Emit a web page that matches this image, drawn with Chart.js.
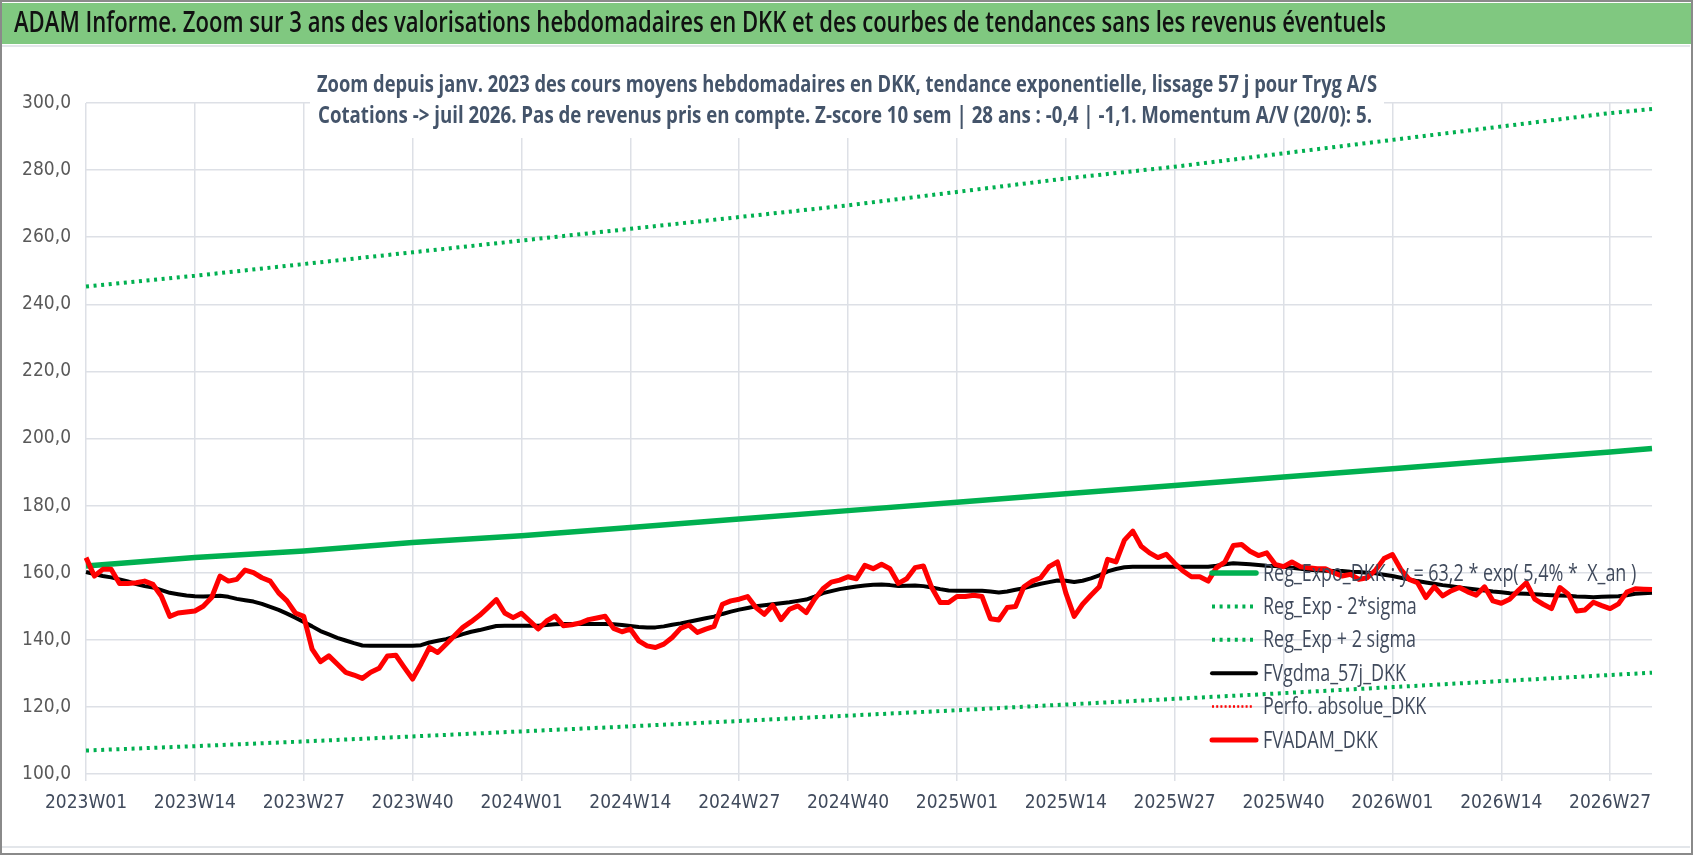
<!DOCTYPE html>
<html lang="fr">
<head>
<meta charset="UTF-8">
<title>ADAM Informe - Tryg A/S</title>
<script src="https://cdn.jsdelivr.net/npm/chart.js"></script>
<style>
  html, body { margin: 0; padding: 0; background: #fff; overflow: hidden; }
  #wrap { position: relative; width: 1698px; height: 856px; }
</style>
</head>
<body>
<div id="wrap"><canvas id="adam"></canvas></div>
<script>
// weeks shown on the x axis (2023W01 -> 2026W32)
const yearWeeks = [[2023, 52], [2024, 52], [2025, 52], [2026, 32]];
const weeks = [];
yearWeeks.forEach(([y, n]) => {
    for (let w = 1; w <= n; w++) weeks.push(y + 'W' + String(w).padStart(2, '0'));
});

// FVADAM_DKK, weekly values
const fvadam = [
    164.5, 159.0, 161.0, 161.0, 156.8, 156.8, 157.0, 157.5, 156.5, 153.0,
    147.0, 148.0, 148.3, 148.6, 150.0, 152.6, 159.0, 157.5, 158.0, 160.8,
    160.0, 158.5, 157.5, 154.0, 151.6, 148.0, 147.0, 137.2, 133.5, 135.2,
    132.8, 130.3, 129.5, 128.5, 130.3, 131.5, 135.2, 135.4, 131.8, 128.3,
    132.8, 137.7, 136.2, 138.7, 141.2, 143.7, 145.4, 147.3, 149.6, 152.0,
    148.0, 146.6, 147.9, 145.6, 143.2, 145.6, 147.1, 144.2, 144.5, 145.0,
    146.0, 146.5, 147.0, 143.4, 142.4, 143.2, 139.7, 138.2, 137.7, 138.7,
    140.7, 143.4, 144.4, 142.2, 143.2, 144.0, 150.6, 151.6, 152.1, 152.9,
    149.6, 147.6, 150.3, 146.0, 149.1, 150.1, 148.1, 152.1, 155.2, 157.2,
    157.8, 158.8, 158.2, 162.2, 161.2, 162.5, 161.2, 156.8, 158.2, 161.5,
    162.0, 155.5, 151.1, 151.1, 152.9, 152.9, 153.3, 152.9, 146.3, 145.9,
    149.6, 149.9, 155.8, 157.5, 158.5, 161.8, 163.2, 154.0, 147.0, 150.6,
    153.3, 155.8, 164.0, 163.2, 169.7, 172.4, 167.9, 165.9, 164.5, 165.5,
    162.8, 160.5, 158.8, 158.8, 157.5, 161.5, 163.2, 168.1, 168.4, 166.4,
    165.1, 165.9, 162.5, 161.8, 163.2, 161.8, 161.5, 161.2, 161.2, 160.0,
    159.0, 159.5, 158.0, 158.5, 160.8, 164.2, 165.4, 161.0, 158.0, 157.0,
    152.6, 155.8, 153.1, 154.6, 155.6, 154.3, 153.3, 155.8, 151.6, 150.9,
    152.1, 154.6, 157.0, 152.1, 150.6, 149.3, 155.6, 153.6, 148.6, 148.9,
    151.2, 150.2, 149.3, 150.7, 154.2, 155.2, 155.1, 155.0
];

// FVgdma_57j_DKK (smoothed)
const fvgdma = [
    160.2, 159.6, 159.0, 158.6, 158.0, 157.4, 156.6, 156.0, 155.6, 154.8,
    154.0, 153.6, 153.2, 153.0, 152.9, 153.0, 153.1, 152.8, 152.2, 151.8,
    151.4, 150.7, 149.8, 148.9, 147.8, 146.6, 145.3, 144.0, 142.6, 141.6,
    140.6, 139.8, 139.0, 138.3, 138.2, 138.2, 138.2, 138.2, 138.2, 138.2,
    138.4, 139.2, 139.7, 140.2, 140.9, 141.7, 142.4, 142.9, 143.5, 144.1,
    144.2, 144.2, 144.2, 144.2, 144.2, 144.4, 144.6, 144.7, 144.7, 144.7,
    144.7, 144.7, 144.7, 144.6, 144.4, 144.1, 143.8, 143.7, 143.7, 144.0,
    144.5, 144.9, 145.4, 145.9, 146.4, 146.9, 147.7, 148.4, 149.0, 149.5,
    150.0, 150.3, 150.6, 150.9, 151.2, 151.6, 152.0, 152.9, 153.9, 154.5,
    155.1, 155.5, 155.9, 156.2, 156.4, 156.5, 156.3, 156.0, 156.1, 156.2,
    156.0, 155.6, 155.1, 154.7, 154.6, 154.6, 154.6, 154.6, 154.4, 154.1,
    154.4, 154.9, 155.4, 156.1, 156.7, 157.2, 157.7, 157.6, 157.2, 157.6,
    158.3, 159.2, 160.4, 161.1, 161.6, 161.8, 161.8, 161.8, 161.8, 161.8,
    161.8, 161.8, 161.8, 161.8, 161.8, 162.1, 162.5, 162.8, 162.7, 162.5,
    162.3, 162.1, 162.0, 161.8, 161.5, 161.2, 160.9, 160.7, 160.6, 160.5,
    160.5, 160.3, 160.2, 160.0, 159.8, 159.4, 159.0, 158.5, 158.0, 157.5,
    157.1, 156.7, 156.3, 156.0, 155.6, 155.3, 155.0, 154.7, 154.4, 154.2,
    153.9, 153.8, 153.7, 153.6, 153.4, 153.3, 153.2, 153.1, 152.9, 152.8,
    152.7, 152.8, 152.9, 153.0, 153.3, 153.7, 153.9, 154.0
];

// trend curves, read at the labelled weeks
const trendWeeks = ['2023W01', '2023W14', '2023W27', '2023W40', '2024W01', '2024W14', '2024W27', '2024W40',
    '2025W01', '2025W14', '2025W27', '2025W40', '2026W01', '2026W14', '2026W27', '2026W32'];
const regExpo = [162.0, 164.5, 166.5, 169.0, 171.0, 173.5, 176.0, 178.5, 181.0, 183.5, 186.0, 188.5, 191.0, 193.5, 196.0, 197.0];
const regLow = [107.0, 108.3, 109.7, 111.2, 112.7, 114.2, 115.8, 117.4, 119.0, 120.7, 122.4, 124.1, 125.9, 127.7, 129.5, 130.2];
const regHigh = [245.3, 248.5, 252.0, 255.5, 259.0, 262.5, 266.0, 269.5, 273.5, 277.5, 281.0, 285.0, 289.0, 293.0, 297.0, 298.2];

const titleText = 'ADAM Informe. Zoom sur 3 ans des valorisations hebdomadaires en DKK et des courbes de tendances sans les revenus éventuels';
const subTitle = [
    'Zoom depuis janv. 2023 des cours moyens hebdomadaires en DKK, tendance exponentielle, lissage 57 j pour Tryg A/S',
    'Cotations -> juil 2026. Pas de revenus pris en compte. Z-score 10 sem | 28 ans : -0,4 | -1,1. Momentum A/V (20/0): 5.'
];

const GREEN = '#00b050';
const narrow = '"Liberation Sans Narrow", "DejaVu Sans Condensed", sans-serif';
const trend = arr => arr.map((v, i) => ({ x: trendWeeks[i], y: v }));

// the original text is horizontally squeezed: draw with a x-scale
function squeezed(ctx, text, x, y, sx) {
    ctx.save();
    ctx.translate(x, y);
    ctx.scale(sx, 1);
    ctx.fillText(text, 0, 0);
    ctx.restore();
}
function fitted(ctx, text, x, y, width) {
    squeezed(ctx, text, x, y, width / ctx.measureText(text).width);
}

const framePlugin = {
    id: 'frame',
    beforeDraw(chart) {
        const ctx = chart.ctx;
        ctx.save();
        ctx.fillStyle = '#ffffff';
        ctx.fillRect(0, 0, chart.width, chart.height);
        ctx.fillStyle = '#80c880';
        ctx.fillRect(2, 3, 1689, 41);
        ctx.strokeStyle = '#e3e6ea';
        ctx.lineWidth = 2;
        ctx.beginPath();
        ctx.moveTo(2, 46); ctx.lineTo(1690, 46);
        ctx.moveTo(2, 847); ctx.lineTo(1690, 847);
        ctx.stroke();
        ctx.strokeStyle = '#8a8a8a';
        ctx.strokeRect(1, 1, 1691, 853);
        ctx.fillStyle = '#111111';
        ctx.font = '600 29px "Open Sans", sans-serif';
        ctx.textBaseline = 'middle';
        fitted(ctx, titleText, 14, 24, 1372);
        ctx.restore();
    },
    beforeDatasetsDraw(chart) {
        // subtitle box sits over the top of the plot
        const ctx = chart.ctx;
        ctx.save();
        ctx.fillStyle = '#ffffff';
        ctx.fillRect(310, 62, 1074, 76);
        ctx.fillStyle = '#44546a';
        ctx.font = 'bold 23px "Open Sans", sans-serif';
        ctx.textAlign = 'center';
        ctx.textBaseline = 'middle';
        fitted(ctx, subTitle[0], 847, 85, 1060);
        fitted(ctx, subTitle[1], 845, 116, 1054);
        ctx.restore();
    },
    afterDatasetsDraw(chart) {
        // legend drawn inside the plot, like the original
        const ctx = chart.ctx;
        ctx.save();
        chart.data.datasets.forEach((ds, k) => {
            const y = 573 + k * 33.4;
            ctx.beginPath();
            ctx.strokeStyle = ds.borderColor;
            ctx.lineWidth = ds.borderWidth;
            ctx.lineCap = ds.borderDash ? 'butt' : 'round';
            ctx.setLineDash(ds.borderDash || []);
            ctx.moveTo(1212, y);
            ctx.lineTo(ds.borderDash ? 1254 : 1256, y);
            ctx.stroke();
            ctx.setLineDash([]);
            ctx.fillStyle = '#404a5c';
            ctx.font = '23px "Open Sans", sans-serif';
            ctx.textBaseline = 'middle';
            squeezed(ctx, ds.label, 1263, y + 1, 0.78);
        });
        ctx.restore();
    }
};

function drawChart() {
    const ctx = document.getElementById('adam').getContext('2d');
    new Chart(ctx, {
        type: 'line',
        data: {
            labels: weeks,
            datasets: [
                { label: 'Reg_Expo_DKK : y = 63,2 * exp( 5,4% *  X_an )', data: trend(regExpo), borderColor: GREEN, borderWidth: 5.5, order: 4 },
                { label: 'Reg_Exp - 2*sigma', data: trend(regLow), borderColor: GREEN, borderWidth: 4, borderDash: [3, 4.6], order: 3 },
                { label: 'Reg_Exp + 2 sigma', data: trend(regHigh), borderColor: GREEN, borderWidth: 4, borderDash: [3, 4.6], order: 2 },
                { label: 'FVgdma_57j_DKK', data: fvgdma, borderColor: '#000000', borderWidth: 4, order: 1 },
                { label: 'Perfo. absolue_DKK', data: [], borderColor: '#ff0000', borderWidth: 2.5, borderDash: [2, 2.2], order: 5 },
                { label: 'FVADAM_DKK', data: fvadam, borderColor: '#ff0000', borderWidth: 5, order: 0 }
            ]
        },
        options: {
            responsive: true,
            maintainAspectRatio: false,
            animation: false,
            events: [],
            layout: { padding: { left: 0, top: 103, right: 46, bottom: 22 } },
            elements: {
                point: { radius: 0 },
                line: { tension: 0, borderJoinStyle: 'round', fill: false }
            },
            plugins: {
                legend: { display: false },
                title: { display: false },
                tooltip: { enabled: false }
            },
            scales: {
                x: {
                    type: 'category',
                    offset: false,
                    afterFit: s => { s.height = 60; },
                    grid: { color: '#dde0e6', lineWidth: 1.5, tickLength: 7 },
                    border: { display: false },
                    ticks: {
                        autoSkip: false,
                        maxRotation: 0,
                        padding: 11,
                        color: '#404a5c',
                        font: { family: narrow, size: 19 },
                        callback: function (val, idx) { return idx % 13 === 0 ? weeks[idx] : null; }
                    }
                },
                y: {
                    min: 100,
                    max: 300,
                    afterFit: s => { s.width = 86; },
                    grid: { color: '#dde0e6', lineWidth: 1.5, drawTicks: false },
                    border: { display: false },
                    ticks: {
                        stepSize: 20,
                        padding: 15,
                        color: '#595959',
                        font: { family: narrow, size: 19 },
                        callback: v => v.toFixed(1).replace('.', ',')
                    }
                }
            }
        },
        plugins: [framePlugin]
    });
}

Promise.all([
    document.fonts.load('600 29px "Open Sans"'),
    document.fonts.load('bold 23px "Open Sans"'),
    document.fonts.load('19px "Liberation Sans Narrow"')
]).catch(() => {}).then(drawChart);
</script>
</body>
</html>
